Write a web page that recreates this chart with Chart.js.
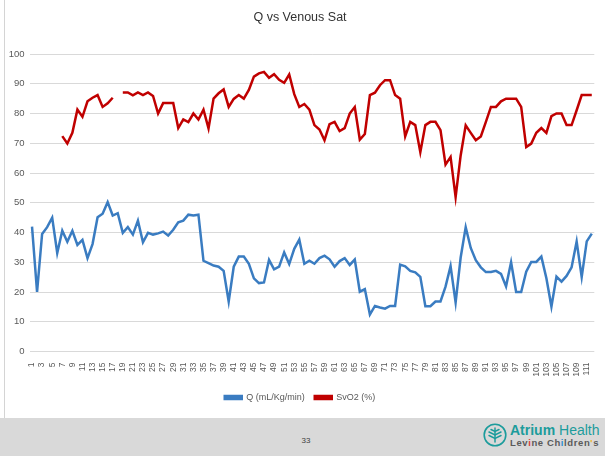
<!DOCTYPE html>
<html><head><meta charset="utf-8">
<script src="https://cdn.jsdelivr.net/npm/chart.js@4"></script>
<style>
html,body{margin:0;padding:0;background:#fff;}
body{width:605px;height:456px;position:relative;overflow:hidden;font-family:'Liberation Sans Narrow','Liberation Sans',sans-serif;}
#wrap{position:absolute;left:0;top:0;width:605px;height:418px;}
#border{position:absolute;left:4px;top:0;width:1px;height:418px;background:#d4d4d4;}
#footer{position:absolute;left:0;top:418px;width:605px;height:38px;background:#d9d9d9;}
#pg{position:absolute;left:299px;top:436px;width:14px;text-align:center;font-size:8px;color:#404040;font-family:'Liberation Sans',sans-serif;}
#logo{position:absolute;left:483px;top:423px;}
#brand1{position:absolute;left:510px;top:423px;font-family:'Liberation Sans',sans-serif;font-size:14px;color:#1c9c9c;line-height:15px;white-space:nowrap;}
#brand1 b{font-weight:bold;}
#brand2{position:absolute;left:510px;top:438px;font-family:'Liberation Sans',sans-serif;font-size:9.5px;color:#5a5a5a;line-height:10px;white-space:nowrap;letter-spacing:0.6px;font-weight:bold;}
</style></head>
<body>
<div id="wrap"><canvas id="c"></canvas></div>
<div id="border"></div>
<div id="footer"></div>
<div id="pg">33</div>
<svg id="logo" width="24" height="24" viewBox="0 0 24 24">
  <circle cx="12" cy="12" r="10.8" fill="none" stroke="#1c9c9c" stroke-width="1.6"/>
  <g fill="none" stroke="#1c9c9c" stroke-width="1.5" stroke-linecap="round">
    <path d="M12 5 L12 19"/>
    <path d="M6 9 L12 12 L18 9"/>
    <path d="M6 12.5 L12 15.5 L18 12.5"/>
    <path d="M8 6.5 L12 8.5 L16 6.5"/>
  </g>
</svg>
<div id="brand1"><b>Atrium</b> Health</div>
<div id="brand2">Lev<span style="color:#e0403a">i</span>ne Ch<span style="color:#2f8fd0">i</span>ldren<span style="color:#f2b51c">'</span>s</div>
<script>
const categories = ['1','2','3','4','5','6','7','8','9','10','11','12','13','14','15','16','17','18','19','20',
'21','22','23','24','25','26','27','28','29','30','31','32','33','34','35','36','37','38','39','40',
'41','42','43','44','45','46','47','48','49','50','51','52','53','54','55','56','57','58','59','60',
'61','62','63','64','65','66','67','68','69','70','71','72','73','74','75','76','77','78','79','80',
'81','82','83','84','85','86','87','88','89','90','91','92','93','94','95','96','97','98','99','100',
'101','102','103','104','105','106','107','108','109','110','111','112'];

const qValues = [42,20,39.5,41.8,45,33.1,40.6,36.9,40.6,35.8,37.5,31.4,36.1,45.1,46.3,50.2,45.7,46.5,39.9,41.8,
39.3,44,36.7,39.9,39.3,39.7,40.3,39,40.9,43.4,44,46,45.7,46,30.5,29.7,28.9,28.5,27.1,16.8,
28.5,31.9,31.9,29.5,24.6,23,23.2,30.8,27.6,28.5,33.3,29.4,34.5,37.6,29.5,30.5,29.5,31.4,32.2,31,
28.5,30.4,31.4,29.1,30.9,20.1,21,12.4,15.3,14.8,14.4,15.3,15.3,29.2,28.6,27.1,26.6,25.1,15.2,15.2,
16.8,16.8,21.8,28.7,16.5,31.6,41.8,34.8,30.7,28.3,26.7,26.7,27.1,26.1,21.9,30,20,20,26.8,30.1,
30.1,31.9,24.6,15.1,25.2,23.5,25.4,28.3,37,25,37,39.6];

const svo2Values = [null,null,null,null,null,null,72.4,69.9,73.5,81.3,78.9,84.1,85.3,86.2,82.2,83.4,85.3,null,87.1,87.1,
86.1,87.1,86.2,87.1,85.9,80,83.5,83.5,83.5,75.1,78,77.1,80,78,81.3,75,85,86.8,88.1,82.2,
84.9,86.2,85,87.9,92.4,93.5,94,92,93.2,91.3,90.3,93.1,86.5,82.2,83.2,81.3,76.1,74.6,71,76.4,
77.2,74.1,75.1,80,82.2,71.2,73.1,86.2,87,89.5,91.2,91.2,86.2,85,72.3,77.2,76.1,67,76.1,77.2,
77.2,74.4,62.8,65.4,51.9,65.9,76,73.5,71,72.3,77.2,82.2,82.2,84.1,85,85,85,82.2,68.7,69.9,
73.5,75.1,73.5,79.1,80,80,76.1,76.1,81.1,86.2,86.2,86.2];

const yTickValues = [0,10,20,30,40,50,60,70,80,90,100];
const seriesNames = ['Q (mL/Kg/min)', 'SvO2 (%)'];
const chartTitle = 'Q vs Venous Sat';

const FONT = "'Liberation Sans Narrow','Liberation Sans',sans-serif";
new Chart(document.getElementById('c'), {
  type: 'line',
  data: {
    labels: categories,
    datasets: [
      {label: seriesNames[0], data: qValues, borderColor: '#3a7cc1', backgroundColor: '#3a7cc1',
       borderWidth: 2.5, pointRadius: 0, tension: 0, spanGaps: false},
      {label: seriesNames[1], data: svo2Values, borderColor: '#c00000', backgroundColor: '#c00000',
       borderWidth: 2.5, pointRadius: 0, tension: 0, spanGaps: false}
    ]
  },
  options: {
    responsive: true, maintainAspectRatio: false, animation: false,
    layout: {padding: {left: 0, right: 5, top: 0, bottom: 6}},
    plugins: {
      title: {display: true, text: chartTitle, color: '#333333',
              font: {family: FONT, size: 12.5, weight: 'normal'}, padding: {top: 10, bottom: 29}},
      legend: {display: true, position: 'bottom',
               labels: {boxWidth: 17, boxHeight: 3, color: '#595959', padding: 10,
                        font: {family: FONT, size: 9}}},
      tooltip: {enabled: false}
    },
    scales: {
      x: {
        offset: true,
        grid: {display: false},
        border: {display: false},
        ticks: {autoSkip: false, minRotation: 90, maxRotation: 90, padding: 3, color: '#595959',
                font: {family: FONT, size: 8.5},
                callback: (v, i) => (i % 2 === 0 ? categories[i] : '')},
        afterFit: s => { s.height = 31.5; }
      },
      y: {
        min: 0, max: 100,
        afterBuildTicks: s => { s.ticks = yTickValues.map(v => ({value: v})); },
        grid: {color: '#d9d9d9', lineWidth: 1, drawTicks: false},
        border: {display: false},
        ticks: {padding: 5, color: '#595959', font: {family: FONT, size: 9.5}},
        afterFit: s => { s.width = 29.5; }
      }
    }
  }
});
</script>
</body></html>
